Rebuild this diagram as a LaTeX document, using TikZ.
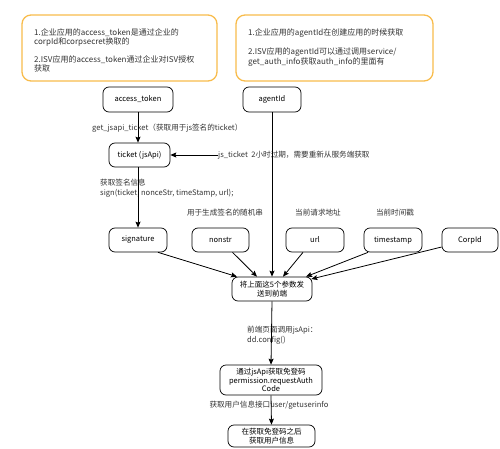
\documentclass[tikz,border=0pt]{standalone}
\usepackage{fontspec}
\setmainfont{Noto Sans CJK SC}
\usetikzlibrary{arrows.meta}
\definecolor{noteorange}{HTML}{F8BC4C}
\definecolor{txtgray}{HTML}{333333}
\tikzset{
  note/.style={draw=noteorange, line width=1.3pt, rounded corners=9pt},
  flowbox/.style={draw=black, line width=0.7pt, rounded corners=6pt, align=center, font=\fontsize{7.5}{8.5}\selectfont, inner sep=1pt},
  lbl/.style={inner sep=0pt, align=left, font=\fontsize{7.6}{10}\selectfont, text=txtgray},
  notetext/.style={inner sep=0pt, align=left, font=\fontsize{8}{8.5}\selectfont, text=txtgray},
  conn/.style={draw=black, line width=0.8pt, -{Stealth[length=6pt,width=5pt,inset=1pt]}}
}
\begin{document}
\begin{tikzpicture}[x=1pt,y=-1pt]
\useasboundingbox (0,0) rectangle (500,449);
% notes
\draw[note] (22,15) rectangle (217,81);
\draw[note] (236,15) rectangle (433,81);
\node[notetext, anchor=north west] (n1) at (34,29) {1.企业应用的access\_token是通过企业的\\corpId和corpsecret换取的\\[8.5pt]2.ISV应用的access\_token通过企业对ISV授权\\获取};
\node[notetext, anchor=north west] (n2) at (248,29) {1.企业应用的agentId在创建应用的时候获取\\[8.5pt]2.ISV应用的agentId可以通过调用service/\\get\_auth\_info获取auth\_info的里面有};
% boxes
\node[flowbox, minimum width=70pt, minimum height=25pt] (at) at (138,99.5) {access\_token};
\node[flowbox, minimum width=58pt, minimum height=25pt] (ag) at (272,99.5) {agentId};
\node[flowbox, minimum width=61pt, minimum height=24pt] (tk) at (139.5,155) {ticket (jsApi)};
\node[flowbox, minimum width=58pt, minimum height=24pt] (sg) at (138,240) {signature};
\node[flowbox, minimum width=57pt, minimum height=24pt] (ns) at (220.5,240) {nonstr};
\node[flowbox, minimum width=58pt, minimum height=24pt] (ur) at (315,240) {url};
\node[flowbox, minimum width=58pt, minimum height=24pt] (ts) at (393,240) {timestamp};
\node[flowbox, minimum width=56pt, minimum height=24pt] (cp) at (470,240) {CorpId};
\node[flowbox, minimum width=80pt, minimum height=24pt] (sd) at (272,289) {将上面这5个参数发\\送到前端};
\node[flowbox, minimum width=102pt, minimum height=30pt] (au) at (271,380) {通过jsApi获取免登码\\permission.requestAuth\\Code};
\node[flowbox, minimum width=87pt, minimum height=22pt] (fi) at (271.5,436) {在获取免登码之后\\获取用户信息};
% labels
\node[lbl, anchor=west] (l1) at (92,128) {get\_jsapi\_ticket（获取用于js签名的ticket）};
\node[lbl, anchor=west] (l2) at (218,155) {js\_ticket\ \ 2小时过期，需要重新从服务端获取};
\node[lbl, anchor=west] (l3) at (100,188) {获取签名信息\\sign(ticket, nonceStr, timeStamp, url);};
\node[lbl] (l4) at (225,213) {用于生成签名的随机串};
\node[lbl] (l5) at (318,213) {当前请求地址};
\node[lbl] (l6) at (395,213) {当前时间戳};
\node[lbl, anchor=west] (l7) at (247,335) {前端页面调用jsApi：\\dd.config()};
\node[lbl] (l8) at (269,405) {获取用户信息接口user/getuserinfo};
% connectors
\draw[conn] (at.south) -- (at.south |- tk.north);
\draw[conn] (l2.west) -- (tk.east);
\draw[conn] (tk.south -| sg.north) -- (sg.north);
\draw[conn] (ag.south) -- (sd.north);
\draw[conn] ([xshift=20pt]sg.south) -- ([xshift=-35pt]sd.north);
\draw[conn] ([xshift=12pt]ns.south) -- ([xshift=-15pt]sd.north);
\draw[conn] ([xshift=-12pt]ur.south) -- ([xshift=11pt]sd.north);
\draw[conn] ([xshift=-25pt]ts.south) -- ([xshift=34pt]sd.north);
\draw[conn] ([yshift=-7pt]cp.west) -- ([xshift=-1pt,yshift=10pt]sd.east);
\draw[conn] (sd.south) -- (au.north);
\draw[conn] (au.south) -- (fi.north);
\end{tikzpicture}
\end{document}
